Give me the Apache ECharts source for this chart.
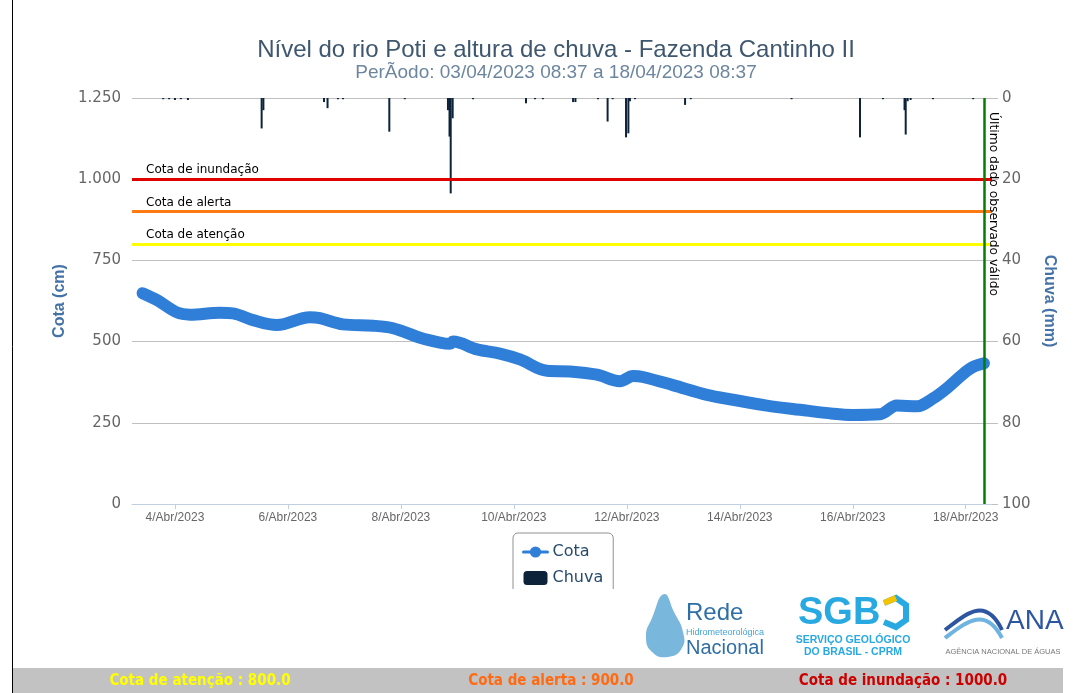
<!DOCTYPE html>
<html><head><meta charset="utf-8">
<script src="https://cdn.jsdelivr.net/npm/echarts@6/dist/echarts.min.js"></script>
<style>html,body{margin:0;padding:0;background:#fff}#c{width:1073px;height:693px}</style>
</head><body><div id="c"></div><script>
// ---- data ----
const cotaTimes = ['2023-04-03 10:15','2023-04-03 16:20','2023-04-04 00:50','2023-04-04 06:20','2023-04-04 19:10','2023-04-05 00:40','2023-04-05 09:10','2023-04-05 19:20','2023-04-06 09:20','2023-04-06 13:35','2023-04-06 23:25','2023-04-07 12:10','2023-04-07 20:40','2023-04-08 08:10','2023-04-08 16:35','2023-04-08 20:50','2023-04-08 22:10','2023-04-09 08:20','2023-04-09 18:05','2023-04-10 02:35','2023-04-10 14:05','2023-04-10 23:50','2023-04-11 11:20','2023-04-11 21:05','2023-04-12 02:40','2023-04-12 06:50','2023-04-12 19:35','2023-04-13 10:05','2023-04-13 21:05','2023-04-14 11:30','2023-04-15 01:40','2023-04-15 15:35','2023-04-16 00:00','2023-04-16 11:30','2023-04-16 18:45','2023-04-17 03:25','2023-04-17 10:05','2023-04-17 16:05','2023-04-17 22:50','2023-04-18 03:10','2023-04-18 07:45'];
const cotaValues = [649,628,590,583,589,587,566,551,575,572,553,549,541,512,497,493,500,476,463,445,410,408,398,378,394,391,366,336,321,303,290,278,274,276,303,301,325,357,400,422,433];
const chuvaTimes = ['2023-04-03 19:00','2023-04-03 21:30','2023-04-04 00:00','2023-04-04 02:30','2023-04-04 05:30','2023-04-05 12:50','2023-04-05 13:35','2023-04-06 15:20','2023-04-06 16:50','2023-04-06 21:15','2023-04-06 23:25','2023-04-07 19:05','2023-04-08 01:40','2023-04-08 20:00','2023-04-08 20:40','2023-04-08 21:10','2023-04-08 22:00','2023-04-09 06:40','2023-04-10 05:10','2023-04-10 09:00','2023-04-10 12:20','2023-04-11 01:10','2023-04-11 02:10','2023-04-11 11:45','2023-04-11 15:50','2023-04-11 18:00','2023-04-11 23:40','2023-04-12 00:40','2023-04-12 01:20','2023-04-12 03:30','2023-04-13 00:45','2023-04-13 03:10','2023-04-14 22:00','2023-04-16 03:05','2023-04-16 12:50','2023-04-16 22:00','2023-04-16 22:30','2023-04-16 23:20','2023-04-17 00:35','2023-04-17 10:05','2023-04-18 03:10'];
const chuvaValues = [0.3,0.3,0.5,0.3,0.5,7.5,3,1,2.5,0.3,0.3,8.3,0.3,3,9.5,23.5,5,0.3,1.3,0.3,0.3,1,1,0.3,5.8,0.3,9.7,8.7,0.8,0.3,1.7,0.3,0.3,9.7,0.3,3,9,0.8,0.5,0.3,0.3];
const xTickDates = ['2023-04-04 00:00','2023-04-06 00:00','2023-04-08 00:00','2023-04-10 00:00','2023-04-12 00:00','2023-04-14 00:00','2023-04-16 00:00','2023-04-18 00:00'];
const monthNames = ['Jan','Fev','Mar','Abr','Mai','Jun','Jul','Ago','Set','Out','Nov','Dez'];
const thresholdNames = ['Cota de inundação','Cota de alerta','Cota de atenção'];
const thresholdValues = [1000,900,800];
const lastValidTime = '2023-04-18 07:45';
const lastValidLabel = 'Último dado observado válido';
const titleText = 'Nível do rio Poti e altura de chuva - Fazenda Cantinho II';
const subtitleText = 'PerÃodo: 03/04/2023 08:37 a 18/04/2023 08:37';
const footerTexts = ['Cota de atenção : 800.0','Cota de alerta : 900.0','Cota de inundação : 1000.0'];

// ---- helpers ----
function t(s){const p=s.split(' ');const d=p[0].split('-').map(Number);const h=(p[1]||'00:00').split(':').map(Number);return new Date(d[0],d[1]-1,d[2],h[0],h[1]).getTime();}
const thresholdColors = ['#e00000','#ff7a12','#ffff00'];
const footerColors = ['#ffff00','#ff6a13','#cc0000'];
const footerX = [200,551,903];

const chart = echarts.init(document.getElementById('c'));
const markData = thresholdValues.map((v,i)=>({
  yAxis:v, name:thresholdNames[i],
  lineStyle:{color:thresholdColors[i],width:3,type:'solid'},
  label:{show:true,formatter:thresholdNames[i],position:'insideStartTop',color:'#000',fontSize:12,fontFamily:'DejaVu Sans',distance:[14,3]}
}));
markData.push({xAxis:t(lastValidTime),lineStyle:{color:'#008000',width:2.5,type:'solid'},label:{show:false}});

const graphics = [
  {type:'line',shape:{x1:12.5,y1:0,x2:12.5,y2:693},style:{stroke:'#000',lineWidth:1},z:10},
  {type:'rect',shape:{x:13,y:668,width:1050,height:25},style:{fill:'#c2c2c2'},z:10},
  {type:'rect',shape:{x:505,y:589,width:120,height:8},style:{fill:'#fff'},z:100},
  {type:'text',x:987,y:112,rotation:-Math.PI/2,style:{text:lastValidLabel,fill:'#000',font:'12.3px "DejaVu Sans"',align:'left',verticalAlign:'bottom'},z:50},
  {type:'polygon',shape:{points:[[664,594],[652,618],[646,636],[652,652],[668,657],[682,648],[683,632],[674,612]],smooth:0.5},style:{fill:'#4d9fd1',opacity:0.75},z:10},
  {type:'text',x:686,y:613,style:{text:'Rede',fill:'#2f6fa6',font:'24px "Liberation Sans"',verticalAlign:'middle'},z:10},
  {type:'text',x:686,y:633,style:{text:'Hidrometeorológica',fill:'#45a6d8',font:'9px "Liberation Sans"',verticalAlign:'middle'},z:10},
  {type:'text',x:686,y:648,style:{text:'Nacional',fill:'#2f6fa6',font:'20px "Liberation Sans"',verticalAlign:'middle'},z:10},
  {type:'text',x:798,y:614,style:{text:'SGB',fill:'#29a9e1',font:'bold 38px "Liberation Sans"',verticalAlign:'middle'},z:10},
  {type:'polyline',shape:{points:[[884,603],[896,598],[906,605],[906,620],[896,627],[884,622]]},style:{stroke:'#29a9e1',lineWidth:6,fill:null},z:10},
  {type:'line',shape:{x1:884,y1:603,x2:896,y2:598},style:{stroke:'#f5c400',lineWidth:6},z:11},
  {type:'text',x:853,y:640,style:{text:'SERVIÇO GEOLÓGICO',fill:'#29a9e1',font:'bold 10.5px "Liberation Sans"',align:'center',verticalAlign:'middle'},z:10},
  {type:'text',x:853,y:652,style:{text:'DO BRASIL - CPRM',fill:'#29a9e1',font:'bold 10.5px "Liberation Sans"',align:'center',verticalAlign:'middle'},z:10},
  {type:'bezierCurve',shape:{x1:945,y1:630,cpx1:965,cpy1:615,cpx2:985,cpy2:595,x2:1002,y2:630},style:{stroke:'#2d55a0',lineWidth:4,fill:null},z:10},
  {type:'bezierCurve',shape:{x1:945,y1:638,cpx1:965,cpy1:623,cpx2:985,cpy2:605,x2:1002,y2:638},style:{stroke:'#6fb3e0',lineWidth:4,fill:null},z:10},
  {type:'text',x:1006,y:621,style:{text:'ANA',fill:'#2d55a0',font:'28px "Liberation Sans"',verticalAlign:'middle'},z:10},
  {type:'text',x:1003,y:652,style:{text:'AGÊNCIA NACIONAL DE ÁGUAS',fill:'#777',font:'7.5px "Liberation Sans"',align:'center',verticalAlign:'middle'},z:10}
];
footerTexts.forEach((s,i)=>graphics.push({type:'text',x:footerX[i],y:681,style:{text:s,fill:footerColors[i],font:'bold 15px "DejaVu Sans Condensed"',align:'center',verticalAlign:'middle'},z:11}));

const xTicks = xTickDates.map(t);
chart.setOption({
  backgroundColor:'#fff',
  animation:false,
  title:{text:titleText,subtext:subtitleText,left:551,textAlign:'center',top:33,itemGap:1,
    textStyle:{color:'#3e576f',fontSize:24,fontWeight:'normal',fontFamily:'Liberation Sans'},
    subtextStyle:{color:'#6d869f',fontSize:19,fontFamily:'Liberation Sans'}},
  grid:{left:132,right:81,top:98,bottom:189,containLabel:false},
  legend:{orient:'vertical',left:513,top:533,itemWidth:24,itemHeight:14,itemGap:10,padding:[11,10,8,9],
    borderColor:'#909090',borderWidth:1,borderRadius:5,
    textStyle:{color:'#274b6d',fontSize:16,fontFamily:'DejaVu Sans'},
    lineStyle:{width:3},
    data:[{name:'Cota'},{name:'Chuva',icon:'roundRect'}]},
  xAxis:{type:'value',min:t('2023-04-03 05:45'),max:t('2023-04-18 11:10'),
    axisLine:{lineStyle:{color:'#c0d0e0'}},
    axisTick:{show:true,length:5,lineStyle:{color:'#c0d0e0'},customValues:xTicks},
    axisLabel:{customValues:xTicks,color:'#666',fontSize:12,fontFamily:'Liberation Sans',margin:8,
      formatter:function(v){const d=new Date(v);return d.getDate()+'/'+monthNames[d.getMonth()]+'/'+d.getFullYear();}},
    splitLine:{show:false}},
  yAxis:[
    {type:'value',min:0,max:1250,interval:250,
     name:'Cota (cm)',nameLocation:'middle',nameGap:62,
     nameTextStyle:{color:'#4572a7',fontSize:16,fontWeight:'bold',fontFamily:'Liberation Sans'},
     axisLine:{show:false},axisTick:{show:false},
     axisLabel:{color:'#666',fontSize:15,fontFamily:'DejaVu Sans',margin:11,
       formatter:function(v){return v>=1000?String(v).replace(/(\d)(\d{3})$/,'$1.$2'):String(v);}},
     splitLine:{lineStyle:{color:'#c0c0c0'}}},
    {type:'value',min:0,max:100,interval:20,inverse:true,position:'right',
     name:'Chuva (mm)',nameLocation:'middle',nameGap:48,nameRotate:-90,
     nameTextStyle:{color:'#4572a7',fontSize:16,fontWeight:'bold',fontFamily:'Liberation Sans'},
     axisLine:{show:false},axisTick:{show:true,length:6,lineStyle:{color:'#c0c0c0'}},
     axisLabel:{color:'#666',fontSize:15,fontFamily:'DejaVu Sans',margin:10},
     splitLine:{show:false}}
  ],
  series:[
    {name:'Cota',type:'line',yAxisIndex:0,z:3,smooth:0.35,showSymbol:false,symbol:'circle',symbolSize:10,
     data:cotaTimes.map((s,i)=>[t(s),cotaValues[i]]),
     lineStyle:{width:12,color:'#2f7ed8',cap:'round',join:'round'},itemStyle:{color:'#2f7ed8'},
     markLine:{silent:true,symbol:'none',animation:false,data:markData}},
    {name:'Chuva',type:'bar',yAxisIndex:1,z:2,barWidth:2,
     data:chuvaTimes.map((s,i)=>[t(s),chuvaValues[i]]),
     itemStyle:{color:'#0d233a'}}
  ],
  graphic:graphics
});
</script></body></html>
